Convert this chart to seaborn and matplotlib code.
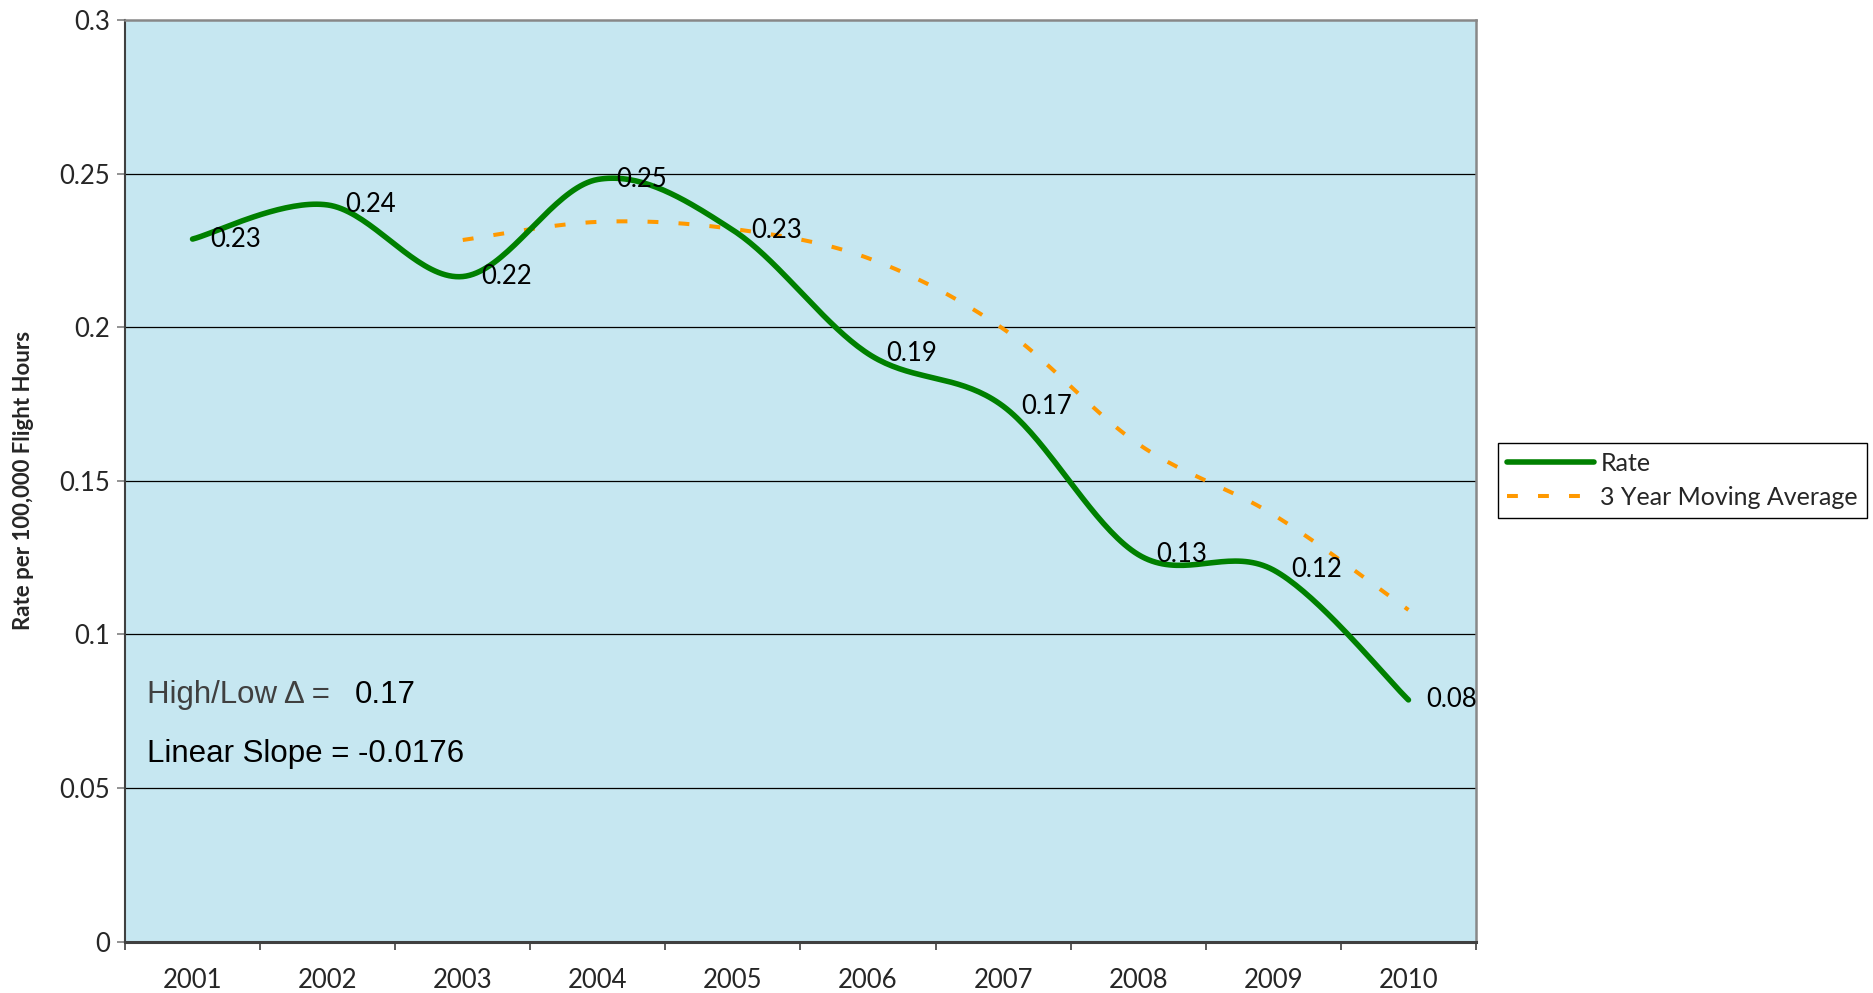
import numpy as np
import pandas as pd
import matplotlib
matplotlib.use('Agg')
import matplotlib.pyplot as plt
import seaborn as sns

# chart data
years = ['2001', '2002', '2003', '2004', '2005', '2006', '2007', '2008', '2009', '2010']
rate = [0.2287, 0.2398, 0.2165, 0.2481, 0.2316, 0.1914, 0.1743, 0.126, 0.121, 0.0787]
rate_labels = ['0.23', '0.24', '0.22', '0.25', '0.23', '0.19', '0.17', '0.13', '0.12', '0.08']
ma_years = years[2:]
moving_avg = [0.2284, 0.2343, 0.232, 0.2225, 0.1995, 0.162, 0.139, 0.108]

sns.set_style('white')
plt.rcParams['font.family'] = ['Lato', 'DejaVu Sans']


def smooth(xs, ys, n=40):
    # Excel-style smoothed line: cubic bezier through each pair of points
    p = np.column_stack([xs, ys]).astype(float)
    p = np.vstack([p[0], p, p[-1]])
    segs = []
    t = np.linspace(0, 1, n)[:, None]
    for i in range(1, len(p) - 2):
        p0, p1, p2, p3 = p[i - 1], p[i], p[i + 1], p[i + 2]
        c1 = p1 + (p2 - p0) / 6
        c2 = p2 - (p3 - p1) / 6
        segs.append((1 - t) ** 3 * p1 + 3 * (1 - t) ** 2 * t * c1 + 3 * (1 - t) * t ** 2 * c2 + t ** 3 * p2)
    return np.vstack(segs)


x_rate = [years.index(y) for y in years]
x_ma = [years.index(y) for y in ma_years]
rate_curve = pd.DataFrame(smooth(x_rate, rate), columns=['x', 'y'])
ma_curve = pd.DataFrame(smooth(x_ma, moving_avg), columns=['x', 'y'])

fig = plt.figure(figsize=(18.74, 9.93), dpi=100)
ax = fig.add_axes([125 / 1874, 1 - 941.7 / 993, 1351 / 1874, 921.7 / 993])
ax.set_facecolor('#C6E7F1')

sns.lineplot(data=rate_curve, x='x', y='y', ax=ax, sort=False, estimator=None,
             color='#008000', linewidth=4.0, label='Rate', solid_capstyle='round', zorder=3)
sns.lineplot(data=ma_curve, x='x', y='y', ax=ax, sort=False, estimator=None,
             color='#FF9900', linewidth=2.9, linestyle=(0, (2.7, 5.0)),
             label='3 Year Moving Average', zorder=2)

# data labels, to the right of each point
for xi, v, lab in zip(x_rate, rate, rate_labels):
    ax.annotate(lab, (xi, v), xytext=(13, 0), textcoords='offset points',
                ha='left', va='center', fontsize=18.5, color='black', zorder=4)

ax.set_xlim(-0.5, len(years) - 0.5)
ax.set_ylim(0, 0.3)
ax.set_yticks([0, 0.05, 0.1, 0.15, 0.2, 0.25, 0.3])
ax.set_yticklabels(['0', '0.05', '0.1', '0.15', '0.2', '0.25', '0.3'])
ax.set_xticks(np.arange(-0.5, len(years)), labels=[])
ax.set_xticks(range(len(years)), labels=years, minor=True)
ax.tick_params(axis='x', which='major', length=6, width=1.2, color='#404040', direction='out', bottom=True)
ax.tick_params(axis='x', which='minor', length=0, pad=19, labelsize=18.5)
ax.tick_params(axis='y', length=6, width=1.2, color='#808080', direction='out', left=True,
               pad=5, labelsize=18.5)

for g in [0.05, 0.1, 0.15, 0.2, 0.25]:
    ax.axhline(g, color='black', linewidth=0.9, zorder=1)

ax.spines['left'].set_color('#404040')
ax.spines['left'].set_linewidth(1.5)
ax.spines['bottom'].set_color('#404040')
ax.spines['bottom'].set_linewidth(2.2)
for s in ['top', 'right']:
    ax.spines[s].set_color('#888888')
    ax.spines[s].set_linewidth(1.8)

ax.set_xlabel('')
ax.set_ylabel('')
fig.text(24 / 1874, 1 - 480 / 993, 'Rate per 100,000 Flight Hours', rotation=90,
         ha='center', va='center', fontsize=16, fontweight='bold')

ax.text(0.0163, 0.2587, 'High/Low \u0394 =', transform=ax.transAxes, ha='left', va='baseline',
        fontsize=22.5, color='#404040', family='Liberation Sans')
ax.text(0.170, 0.2587, '0.17', transform=ax.transAxes, ha='left', va='baseline',
        fontsize=22.5, color='black', family='Liberation Sans')
ax.text(0.0163, 0.1953, 'Linear Slope = -0.0176', transform=ax.transAxes, ha='left', va='baseline',
        fontsize=22.5, color='black', family='Liberation Sans')

handles, labels = ax.get_legend_handles_labels()
leg = ax.legend(handles, labels, loc='center left', bbox_to_anchor=(1498 / 1874, 1 - 480.5 / 993),
                bbox_transform=fig.transFigure, fontsize=18, frameon=True, fancybox=False,
                framealpha=1, edgecolor='black', borderaxespad=0, borderpad=0.35,
                labelspacing=0.45, handlelength=3.5, handletextpad=0.25)
leg.get_frame().set_linewidth(1.0)

fig.savefig('out.png', dpi=100)
